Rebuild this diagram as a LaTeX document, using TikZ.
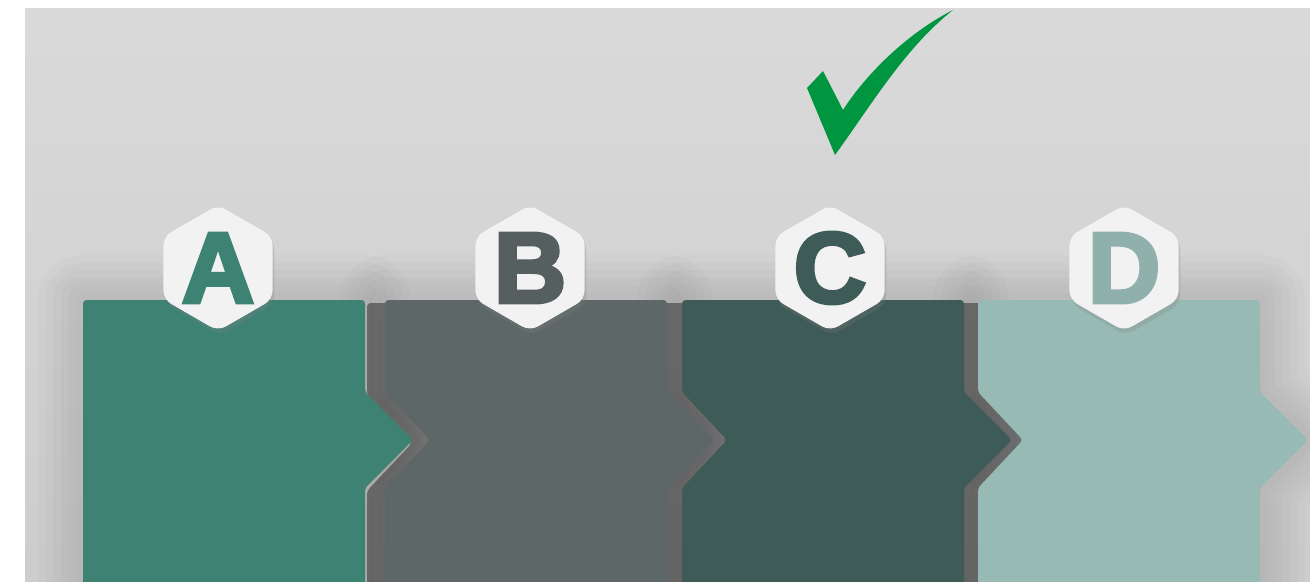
\documentclass[tikz,border=0pt]{standalone}
\usepackage{fontspec}
\newfontfamily\badgefont[BoldFeatures={FakeBold=4}]{Liberation Sans}
\usetikzlibrary{shapes.geometric, shadows}
\definecolor{panelA}{HTML}{3E8274}
\definecolor{panelB}{HTML}{5E6768}
\definecolor{panelC}{HTML}{3F5B57}
\definecolor{panelD}{HTML}{97BAB4}
\definecolor{wall}{HTML}{D3D3D3}
\definecolor{tick}{HTML}{00963F}

\begin{document}
\begin{tikzpicture}[
    x=0.02cm, y=-0.02cm,
    hexbadge/.style={regular polygon, regular polygon sides=6, shape border rotate=30,
        minimum size=2.52cm, inner sep=0pt, rounded corners=5pt,
        fill=white!95!black,
        drop shadow={shadow xshift=1pt, shadow yshift=-2.5pt, opacity=0.25}},
    badgeletter/.style={inner sep=0pt, font=\badgefont\bfseries\fontsize{57}{57}\selectfont},
    sideface/.style={fill=black, opacity=0.4},
]
\clip (0,0) rectangle (1310,581);
% white margin and the grey wall
\fill[white] (0,0) rectangle (1310,581);
\shade[top color=wall!85!white, bottom color=wall!97!black] (25,9) rectangle (1310,581);

% soft shadow of the panels on the wall
\foreach \L in {83,385,682,978}{
  \foreach \w in {90,75,...,15}
    \draw[black, opacity=0.016, line width=\w*0.02cm, line join=round]
      (\L,300) -- (\L+282,300) -- (\L+282,392) -- (\L+330,440) -- (\L+282,488)
      -- (\L+282,600) -- (\L,600) -- cycle;
}

% visible side faces of the panels
\foreach \L in {385,682,978}{
  \begin{scope}[shift={(-18,3)}]
    \fill[sideface, rounded corners=2pt]
      (\L,300) -- (\L+282,300) -- (\L+282,392) -- (\L+330,440) -- (\L+282,488)
      -- (\L+282,600) -- (\L,600) -- (\L,488) -- (\L+45,440) -- (\L,392) -- cycle;
  \end{scope}
}

% the four arrow panels
\foreach \L/\col/\nl in {83/panelA/0, 385/panelB/45, 682/panelC/45, 978/panelD/45}{
  \fill[\col, rounded corners=2pt]
    (\L,300) -- (\L+282,300) -- (\L+282,392) -- (\L+330,440) -- (\L+282,488)
    -- (\L+282,600) -- (\L,600) -- (\L,488) -- (\L+\nl,440) -- (\L,392) -- cycle;
}

% hexagon badges with the step letters
\node[hexbadge] (hexA) at (218,268) {};
\node[hexbadge] (hexB) at (530,268) {};
\node[hexbadge] (hexC) at (830,268) {};
\node[hexbadge] (hexD) at (1124,268) {};
\node[badgeletter, text=panelA] (letA) at (hexA) {A};
\node[badgeletter, text=panelB!92!black] (letB) at (hexB) {B};
\node[badgeletter, text=panelC] (letC) at (hexC) {C};
\node[badgeletter, text=panelD!95!black] (letD) at (hexD) {D};

% brush tick above C
\fill[tick]
  (807,88) -- (823,71) -- (843,110)
  .. controls (862,80) and (902,36) .. (953,10)
  .. controls (905,48) and (872,104) .. (835,155) -- cycle;
\end{tikzpicture}
\end{document}
